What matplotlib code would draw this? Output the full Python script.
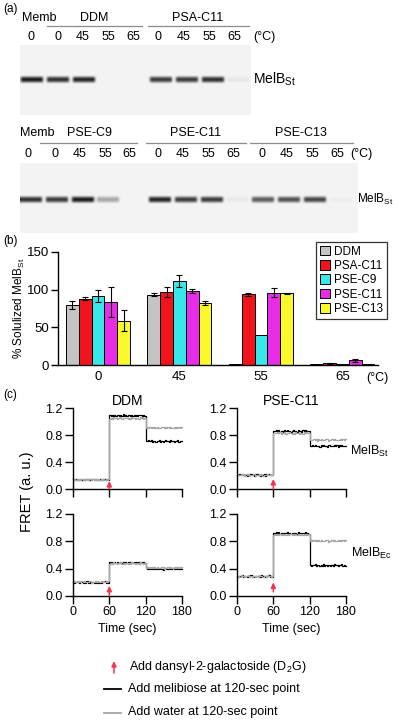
import numpy as np
import matplotlib
matplotlib.use("Agg")
import matplotlib.pyplot as plt
from matplotlib.patches import Patch

plt.rcParams["font.family"] = ["Liberation Sans", "DejaVu Sans"]
plt.rcParams["mathtext.fontset"] = "custom"
plt.rcParams["mathtext.rm"] = "Liberation Sans"
plt.rcParams["mathtext.it"] = "Liberation Sans:italic"
plt.rcParams["mathtext.bf"] = "Liberation Sans:bold"

W, H = 400, 723

# (a) western blots: lane temperatures and relative band strength
gel1_temps = ["0", "0", "45", "55", "65", "0", "45", "55", "65"]
gel1_bands = [1.0, 0.9, 0.95, 0.0, 0.0, 0.85, 0.85, 0.9, 0.06]
gel1_groups = ["DDM", "PSA-C11"]

gel2_temps = ["0", "0", "45", "55", "65", "0", "45", "55", "65", "0", "45", "55", "65"]
gel2_bands = [0.9, 0.85, 1.0, 0.35, 0.0, 0.95, 0.85, 0.85, 0.05, 0.7, 0.75, 0.8, 0.03]
gel2_groups = ["PSE-C9", "PSE-C11", "PSE-C13"]

# (b) % solubilized MelBSt
temps = ["0", "45", "55", "65"]
detergents = ["DDM", "PSA-C11", "PSE-C9", "PSE-C11", "PSE-C13"]
ddm_pct = [80, 93, 1.5, 1]
ddm_err = [5, 2, 0, 0]
psa_c11_pct = [88, 97, 94, 2]
psa_c11_err = [2, 7, 2, 0.5]
pse_c9_pct = [91, 112, 40, 1]
pse_c9_err = [8, 8, 0, 0]
pse_c11_pct = [84, 98, 96, 6]
pse_c11_err = [20, 3, 6, 2]
pse_c13_pct = [59, 82, 95, 1]
pse_c13_err = [14, 3, 1, 0]
bar_colors = ["#c4c4c4", "#f2141a", "#38e8e8", "#e82ce8", "#fafa2a"]

# (c) FRET levels in the three 60-s windows (before D2G, after D2G, after addition)
ddm_st_mel = [0.14, 1.09, 0.71]
ddm_st_water = [0.14, 1.05, 0.91]
c11_st_mel = [0.21, 0.86, 0.64]
c11_st_water = [0.21, 0.83, 0.73]
ddm_ec_mel = [0.20, 0.49, 0.40]
ddm_ec_water = [0.21, 0.48, 0.415]
c11_ec_mel = [0.29, 0.92, 0.45]
c11_ec_water = [0.29, 0.90, 0.81]
arrow_tips = [0.12, 0.15, 0.15, 0.20]
arrow_bases = [0.0, 0.0, 0.0, 0.06]
# trace noise (2-s samples)
jitter = [0.004, -0.006, 0.010, -0.002, 0.012, -0.009, 0.003, 0.000, -0.011, 0.007,
          -0.004, 0.014, -0.008, 0.002, -0.013, 0.006, 0.009, -0.005, 0.001, -0.010,
          0.011, -0.003, 0.005, -0.012, 0.008, -0.001, 0.013, -0.007, 0.003, -0.006]

RED = "#f5334f"
GRAY = "#a6a6a6"
ARROW = "-|>,head_length=0.3,head_width=0.14"


def px_axes(fig, x0, y0, x1, y1):
    ax = fig.add_axes([x0 / W, 1 - y1 / H, (x1 - x0) / W, (y1 - y0) / H])
    ax.set_facecolor("none")
    return ax


def soften(img, k=3):
    kern = np.ones(k) / k
    img = np.pad(img, k // 2, mode="edge")
    img = np.apply_along_axis(np.convolve, 1, img, kern, mode="valid")
    img = np.apply_along_axis(np.convolve, 0, img, kern, mode="valid")
    return img


def gel_image(bands, x0, x1, y0, y1, first_center, pitch, band_y):
    w, h = x1 - x0, y1 - y0
    img = np.full((h, w), 0.955)
    for i, v in enumerate(bands):
        cx = first_center + i * pitch - x0
        c0, c1 = int(round(cx - 11)), int(round(cx + 11))
        r0, r1 = int(band_y - y0 - 2), int(band_y - y0 + 3)
        img[r0:r1, max(c0, 0):min(c1, w)] -= 0.85 * v
    return np.clip(soften(soften(img)), 0, 1)


def trace(levels, wig):
    t, y = [], []
    for k, lv in enumerate(levels):
        for j, w in enumerate(wig):
            t.append(60 * k + 2 * j)
            y.append(lv + w)
    t.append(180)
    y.append(y[-1])
    return t, y


fig = plt.figure(figsize=(W / 100, H / 100), dpi=100)
page = fig.add_axes([0, 0, 1, 1])
page.axis("off")

# ---------------- (a) gels
page.text(3, 9, "(a)", fontsize=8.5, va="center")
img1 = gel_image(gel1_bands, 20, 251, 45, 115, 32, 25.8, 79)
page.imshow(img1, cmap="gray", vmin=0, vmax=1, extent=(20, 251, 115, 45),
            interpolation="bilinear", aspect="auto")
gel1_x = [31, 58, 83, 108, 133, 158, 184, 209, 234]
for x, t in zip(gel1_x, gel1_temps):
    page.text(x, 37, t, fontsize=9, ha="center", va="center")
page.text(253, 37, "(°C)", fontsize=9, va="center")
page.text(39, 18, "Memb", fontsize=9, ha="center", va="center")
for name, xc, (l0, l1) in zip(gel1_groups, [94, 198], [(47, 142), (148, 249)]):
    page.text(xc, 18, name, fontsize=9, ha="center", va="center")
    page.plot([l0, l1], [26, 26], color="#8c8c8c", lw=0.9)
page.text(253, 79, r"MelB$_{\rm St}$", fontsize=10, va="center")

img2 = gel_image(gel2_bands, 20, 358, 163, 233, 31, 25.8, 199)
page.imshow(img2, cmap="gray", vmin=0, vmax=1, extent=(20, 358, 233, 163),
            interpolation="bilinear", aspect="auto")
gel2_x = [28, 55, 80, 105, 129, 158, 183, 208, 233, 262, 287, 312, 337]
for x, t in zip(gel2_x, gel2_temps):
    page.text(x, 154, t, fontsize=9, ha="center", va="center")
page.text(350, 154, "(°C)", fontsize=9, va="center")
page.text(37, 133, "Memb", fontsize=9, ha="center", va="center")
for name, xc, (l0, l1) in zip(gel2_groups, [90, 196, 301],
                              [(40, 137), (146, 246), (250, 353)]):
    page.text(xc, 133, name, fontsize=9, ha="center", va="center")
    page.plot([l0, l1], [143, 143], color="#8c8c8c", lw=0.9)
page.text(357, 199, r"MelB$_{\rm St}$", fontsize=8.5, va="center")

# ---------------- (b) bar chart
page.text(3, 241, "(b)", fontsize=8.5, va="center")
ax = px_axes(fig, 58, 252, 378, 365)
series = [(ddm_pct, ddm_err), (psa_c11_pct, psa_c11_err), (pse_c9_pct, pse_c9_err),
          (pse_c11_pct, pse_c11_err), (pse_c13_pct, pse_c13_err)]
bw = 0.157
xs = np.arange(len(temps))
for j, ((vals, errs), name, col) in enumerate(zip(series, detergents, bar_colors)):
    xj = xs + (j - 2) * bw
    ax.bar(xj, vals, width=bw, color=col, edgecolor="black", linewidth=0.7, label=name)
    keep = [i for i, e in enumerate(errs) if e > 0]
    ax.errorbar(xj[keep], [vals[i] for i in keep], yerr=[errs[i] for i in keep],
                fmt="none", ecolor="black", elinewidth=0.8, capsize=2.3, capthick=0.8)
ax.set_xlim(-0.49, 3.436)
ax.set_ylim(0, 150)
ax.set_yticks([0, 50, 100, 150])
ax.set_xticks(xs)
ax.set_xticklabels(temps)
ax.tick_params(axis="x", length=0, pad=4, labelsize=9.5)
ax.tick_params(axis="y", length=5, width=1, pad=1.5, labelsize=9.5)
for s in ["top", "right"]:
    ax.spines[s].set_visible(False)
for s in ["left", "bottom"]:
    ax.spines[s].set_linewidth(1.0)
ax.set_ylabel(r"% Solulized MelB$_{\rm St}$", fontsize=8.5, labelpad=0)
page.text(377, 378, "(°C)", fontsize=9, ha="center", va="center")
handles = [Patch(facecolor=c, edgecolor="black", linewidth=0.7) for c in bar_colors]
leg = ax.legend(handles, detergents, loc="upper right", bbox_to_anchor=(387 / W, 1 - 242 / H),
                bbox_transform=fig.transFigure, fontsize=8.5, frameon=True, fancybox=False,
                edgecolor="black", borderpad=0.3, handlelength=0.9, handleheight=0.9,
                handletextpad=0.35, labelspacing=0.2, borderaxespad=0)
leg.get_frame().set_linewidth(0.9)

# ---------------- (c) FRET traces
page.text(3, 395, "(c)", fontsize=8.5, va="center")
panels = [
    (73, 408, 182, 489, ddm_st_mel, ddm_st_water),
    (237, 408, 346, 489, c11_st_mel, c11_st_water),
    (73, 514, 182, 596, ddm_ec_mel, ddm_ec_water),
    (237, 514, 346, 596, c11_ec_mel, c11_ec_water),
]
fret_axes = []
for k, (x0, y0, x1, y1, mel, water) in enumerate(panels):
    a = px_axes(fig, x0, y0, x1, y1)
    tb, yb = trace(mel, jitter)
    tg, yg = trace(water, jitter[::-1])
    a.plot(tb, yb, color="black", lw=0.9, drawstyle="steps-post", clip_on=False)
    a.plot(tg, yg, color=GRAY, lw=0.9, drawstyle="steps-post", clip_on=False)
    a.annotate("", xy=(60, arrow_tips[k]), xytext=(60, arrow_bases[k]),
               arrowprops=dict(arrowstyle=ARROW, color=RED, lw=1.1,
                               shrinkA=0, shrinkB=0),
               annotation_clip=False)
    a.set_xlim(0, 180)
    a.set_ylim(0, 1.2)
    a.set_xticks([0, 60, 120, 180])
    a.set_yticks([0.0, 0.4, 0.8, 1.2])
    a.set_yticklabels(["0.0", "0.4", "0.8", "1.2"])
    for s in ["top", "right"]:
        a.spines[s].set_visible(False)
    for s in ["left", "bottom"]:
        a.spines[s].set_linewidth(1.0)
    a.tick_params(length=5.5, width=1, pad=2, labelsize=9)
    if k < 2:
        a.tick_params(axis="x", labelbottom=False)
    else:
        a.set_xlabel("Time (sec)", fontsize=9, labelpad=3)
    fret_axes.append(a)

fret_axes[0].set_title("DDM", fontsize=10, pad=2)
fret_axes[1].set_title("PSE-C11", fontsize=10, pad=2)
fig.text(27 / W, 1 - 492 / H, "FRET (a. u.)", fontsize=10.5, rotation=90,
         ha="center", va="center")
page.text(350, 451, r"MelB$_{\rm St}$", fontsize=9, va="center")
page.text(351, 553, r"MelB$_{\rm Ec}$", fontsize=9, va="center")

# bottom key
page.annotate("", xy=(114, 661), xytext=(114, 673),
              arrowprops=dict(arrowstyle=ARROW, color=RED, lw=1.1, shrinkA=0, shrinkB=0))
page.text(129, 667, r"Add dansyl-2-galactoside (D$_2$G)", fontsize=9, va="center")
page.plot([104, 121], [689, 689], color="black", lw=1.3)
page.text(128, 689, "Add melibiose at 120-sec point", fontsize=9, va="center")
page.plot([104, 121], [713, 713], color=GRAY, lw=1.3)
page.text(128, 712, "Add water at 120-sec point", fontsize=9, va="center")

page.set_xlim(0, W)
page.set_ylim(H, 0)

fig.savefig("out.png", dpi=100)
